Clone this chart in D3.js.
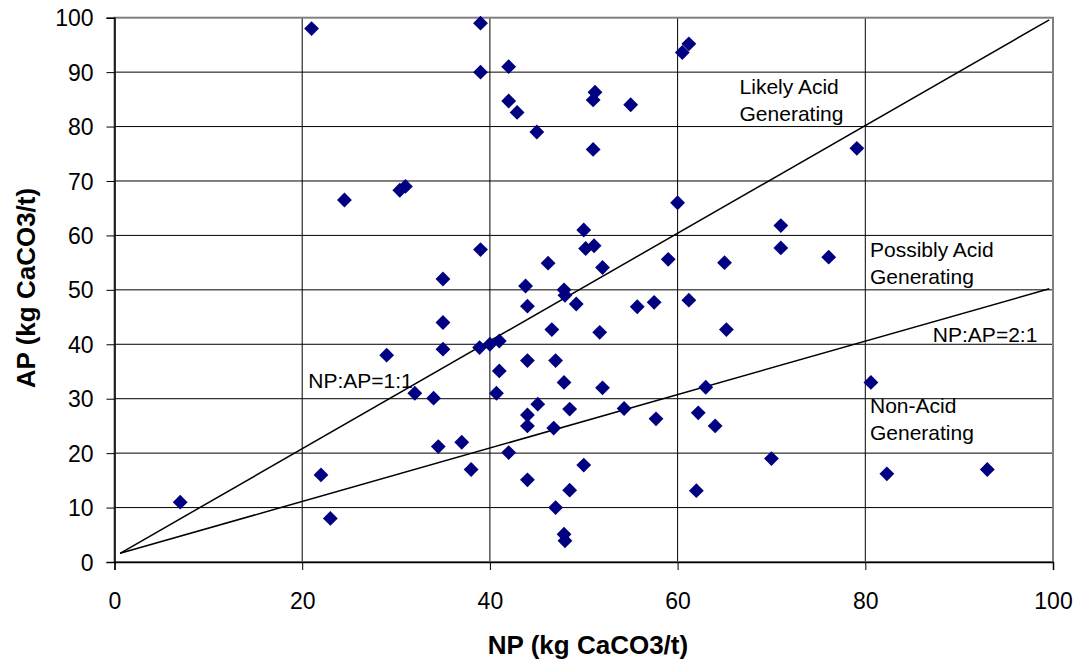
<!DOCTYPE html>
<html>
<head>
<meta charset="utf-8"/>
<script src="https://d3js.org/d3.v7.min.js"></script>
<style>
	body{margin:0;background:#fff;}
	text{font-family:"Liberation Sans",Arial,sans-serif;}
</style>
</head>
<body>
<script>
// NP values (x) and AP values (y)
var np = [7,21,22,23,24.5,30.4,31,35,39,39,42,42,42.9,45,51,51.2,51,55,60.5,61.2,
	60,71,71,65,59,50,50.2,51.1,52,46.2,39,43.8,47.9,48,79.1,76.1,
	29,32,34,34.5,35,35,38.9,40,41,46.6,49.2,51.7,55.7,57.5,61.2,65.2,
	44,41,44,47,47.9,52,40.7,45.1,44,44,46.8,48.5,54.3,57.7,63,62.2,64,70,
	62,37,38,42,44,50,48.5,47,47.9,48,80.6,82.3,93];
var ap = [11,98,16,8,66.5,68.3,69,52,99,90,91,84.7,82.6,79,75.8,86.3,84.9,84,93.6,95.2,
	66,61.8,57.7,55,55.6,61,57.6,58.1,54.1,54.9,57.4,50.7,50,49,76,56,
	38,31,30.1,21.2,44,39.1,39.4,40,40.6,42.7,47.4,42.2,46.9,47.7,48.1,42.7,
	47,35.1,37,37,33,32,31,29,27,25,24.6,28.1,28.2,26.3,32.1,27.4,25,19,
	13.1,22,17,20.1,15.1,17.8,13.2,10,5.1,3.9,33,16.2,17];
var xTicks = [0,20,40,60,80,100];
var yTicks = [0,10,20,30,40,50,60,70,80,90,100];
var ratioLines = [
	{name:"NP:AP=1:1", pts:[[0.6,1.6],[99.6,99.6]]},
	{name:"NP:AP=2:1", pts:[[0.6,1.6],[99.6,50.2]]}
];
var notes = [
	{lines:["Likely Acid","Generating"], x:66.6, y:86},
	{lines:["Possibly Acid","Generating"], x:80.5, y:56.1},
	{lines:["Non-Acid","Generating"], x:80.5, y:27.3},
	{lines:["NP:AP=2:1"], x:87.2, y:40.5},
	{lines:["NP:AP=1:1"], x:20.65, y:31.9}
];

var W=1083, H=667;
var svg = d3.select("body").append("svg").attr("width",W).attr("height",H);

var x = d3.scaleLinear().domain([0,100]).range([114.5,1053]);
var y = d3.scaleLinear().domain([0,100]).range([562,17.7]);

// grid
svg.append("g").selectAll("line").data(yTicks.slice(1,-1)).enter().append("line")
	.attr("x1",x(0)).attr("x2",x(100))
	.attr("y1",function(d){return y(d);}).attr("y2",function(d){return y(d);})
	.attr("stroke","#000").attr("stroke-width",1);
svg.append("g").selectAll("line").data(xTicks.slice(1,-1)).enter().append("line")
	.attr("y1",y(0)).attr("y2",y(100))
	.attr("x1",function(d){return x(d);}).attr("x2",function(d){return x(d);})
	.attr("stroke","#000").attr("stroke-width",1);

// frame
svg.append("rect").attr("x",x(0)).attr("y",y(100))
	.attr("width",x(100)-x(0)).attr("height",y(0)-y(100))
	.attr("fill","none").attr("stroke","#808080").attr("stroke-width",2);

// axes
var xAxis = svg.append("g").attr("transform","translate(0,"+y(0)+")")
	.call(d3.axisBottom(x).tickValues(xTicks).tickSize(8).tickPadding(23));
var yAxis = svg.append("g").attr("transform","translate("+x(0)+",0)")
	.call(d3.axisLeft(y).tickValues(yTicks).tickSize(8).tickPadding(13));
[xAxis,yAxis].forEach(function(a){
	a.select(".domain").attr("stroke","#000").attr("stroke-width",1.5);
	a.selectAll(".tick line").attr("stroke","#000");
	a.selectAll(".tick text").attr("font-size",23).attr("fill","#000")
		.attr("font-family","'Liberation Sans',Arial,sans-serif");
});
xAxis.selectAll(".tick text").attr("dy","0.71em");
yAxis.selectAll(".tick text").attr("dy","0.35em");

// ratio lines
var line = d3.line().x(function(d){return x(d[0]);}).y(function(d){return y(d[1]);});
svg.append("g").selectAll("path").data(ratioLines).enter().append("path")
	.attr("d",function(d){return line(d.pts);})
	.attr("fill","none").attr("stroke","#000").attr("stroke-width",1.5);

// points
var pts = d3.range(np.length).map(function(i){return [np[i],ap[i]];});
var diamond = d3.symbol().type(d3.symbolSquare).size(110);
svg.append("g").selectAll("path").data(pts).enter().append("path")
	.attr("d",diamond)
	.attr("transform",function(d){return "translate("+x(d[0])+","+y(d[1])+") rotate(45)";})
	.attr("fill","#000080");

// notes
var ng = svg.append("g").selectAll("text").data(notes).enter().append("text")
	.attr("x",function(d){return x(d.x);})
	.attr("y",function(d){return y(d.y);})
	.attr("font-size",21).attr("fill","#000");
ng.selectAll("tspan").data(function(d){return d.lines.map(function(l){return {t:l,x:x(d.x)};});})
	.enter().append("tspan")
	.attr("x",function(d){return d.x;})
	.attr("dy",function(d,i){return i?27:0;})
	.text(function(d){return d.t;});

// titles
svg.append("text").attr("x",588).attr("y",654)
	.attr("text-anchor","middle").attr("font-size",26).attr("font-weight","bold")
	.text("NP (kg CaCO3/t)");
svg.append("text").attr("transform","translate(35,"+288+") rotate(-90)")
	.attr("text-anchor","middle").attr("font-size",26).attr("font-weight","bold")
	.text("AP (kg CaCO3/t)");
</script>
</body>
</html>
